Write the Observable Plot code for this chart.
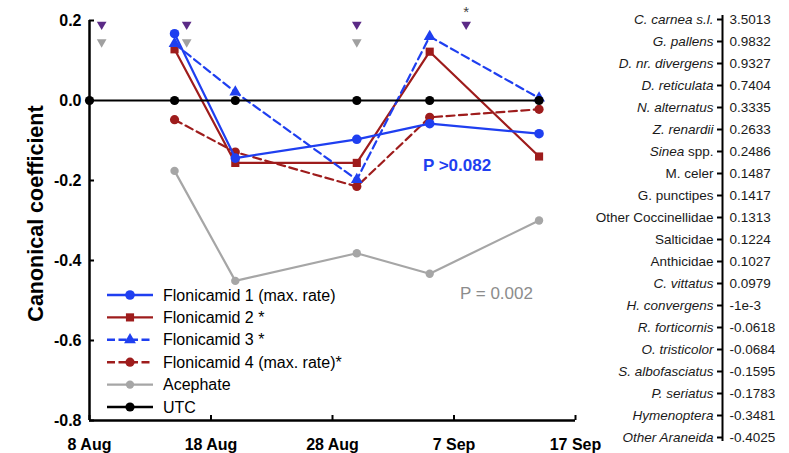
<!DOCTYPE html>
<html><head><meta charset="utf-8">
<script src="https://cdn.jsdelivr.net/npm/d3@7"></script>
<script src="https://cdn.jsdelivr.net/npm/@observablehq/plot@0.6"></script>
<style>
html,body{margin:0;padding:0;background:#fff;}
#wrap{position:relative;width:789px;height:453px;overflow:hidden;font-family:"Liberation Sans",Arial,sans-serif;}
#wrap svg{position:absolute;left:0;top:0;}
</style></head><body><div id="wrap"></div>
<script>
// ---- data ----
const sampleDates = ["2010-08-15","2010-08-20","2010-08-30","2010-09-05","2010-09-14"];
const utcDates = ["2010-08-08","2010-08-15","2010-08-20","2010-08-30","2010-09-05","2010-09-14"];
const flonicamid1 = [0.167, -0.144, -0.097, -0.058, -0.083];
const flonicamid2 = [0.128, -0.156, -0.156, 0.122, -0.140];
const flonicamid3 = [0.142, 0.021, -0.198, 0.160, 0.006];
const flonicamid4 = [-0.048, -0.129, -0.215, -0.042, -0.022];
const acephate = [-0.176, -0.451, -0.382, -0.433, -0.300];
const utc = [0, 0, 0, 0, 0, 0];
const seriesNames = ["Flonicamid 1 (max. rate)", "Flonicamid 2 *", "Flonicamid 3 *", "Flonicamid 4 (max. rate)*", "Acephate", "UTC"];
const xTickDates = ["2010-08-08","2010-08-18","2010-08-28","2010-09-07","2010-09-17"];
const yTickValues = [0.2, 0, -0.2, -0.4, -0.6, -0.8];
const flonicamidSprays = ["2010-08-09","2010-08-16","2010-08-30","2010-09-08"];
const acephateSprays = ["2010-08-09","2010-08-16","2010-08-30"];
const sprayLevelFlonicamid = 0.19;
const sprayLevelAcephate = 0.146;
const asteriskDates = ["2010-09-08"];
const asteriskLevel = 0.222;
const annotations = [
  {date: "2010-09-07", value: -0.163, label: "P >0.082"},
  {date: "2010-09-10", value: -0.4825, label: "P = 0.002"}
];
const yLabel = "Canonical coefficient";
const species = ["C. carnea s.l.","G. pallens","D. nr. divergens","D. reticulata","N. alternatus","Z. renardii","Sinea spp.","M. celer","G. punctipes","Other Coccinellidae","Salticidae","Anthicidae","C. vittatus","H. convergens","R. forticornis","O. tristicolor","S. albofasciatus","P. seriatus","Hymenoptera","Other Araneida"];
const speciesCoef = [3.5013,0.9832,0.9327,0.7404,0.3335,0.2633,0.2486,0.1487,0.1417,0.1313,0.1224,0.1027,0.0979,-0.001,-0.0618,-0.0684,-0.1595,-0.1783,-0.3481,-0.4025];
const italicSpecies = ["C. carnea s.l.","G. pallens","D. nr. divergens","D. reticulata","N. alternatus","Z. renardii","C. vittatus","H. convergens","R. forticornis","O. tristicolor","S. albofasciatus","P. seriatus","Hymenoptera","Other Araneida"];

// ---- styling ----
const FONT = '"Liberation Sans", Arial, sans-serif';
const BLUE = "#1f3ff0", RED = "#9e1c1c", GRAY = "#a6a6a6", PURPLE = "#5b2a86";
const parse = d3.utcParse("%Y-%m-%d");
const styles = [
  {color: BLUE, dash: null, symbol: "circle", r: 4.8},
  {color: RED, dash: null, symbol: "square", r: 4.6},
  {color: BLUE, dash: "8,4.5", symbol: "triangle", r: 4.4},
  {color: RED, dash: "8,4.5", symbol: "circle", r: 4.6},
  {color: GRAY, dash: null, symbol: "circle", r: 4.2},
  {color: "#000", dash: null, symbol: "circle", r: 4.6}
];
const seriesValues = [flonicamid1, flonicamid2, flonicamid3, flonicamid4, acephate, utc];
const seriesDates = [sampleDates, sampleDates, sampleDates, sampleDates, sampleDates, utcDates];
const rowsOf = i => seriesValues[i].map((v, j) => ({date: parse(seriesDates[i][j]), value: v}));

const triangleDown = {draw(ctx, size) {
  const y = Math.sqrt(size / (3 * Math.sqrt(3))), x = y * Math.sqrt(3);
  ctx.moveTo(0, 2 * y); ctx.lineTo(x, -y); ctx.lineTo(-x, -y); ctx.closePath();
}};

const xTicks = xTickDates.map(parse);
const seriesMarks = [];
for (const i of [4, 3, 1, 0, 2, 5]) {
  const st = styles[i], rows = rowsOf(i);
  seriesMarks.push(Plot.line(rows, {x: "date", y: "value", stroke: st.color, strokeWidth: 2.2, strokeDasharray: st.dash}));
  seriesMarks.push(Plot.dot(rows, {x: "date", y: "value", symbol: st.symbol, r: st.r, fill: st.color, stroke: "none"}));
}

const main = Plot.plot({
  width: 600, height: 453,
  marginLeft: 89, marginRight: 25, marginTop: 20, marginBottom: 33,
  style: {background: "transparent", fontFamily: FONT, overflow: "visible"},
  x: {type: "utc", domain: [parse("2010-08-08"), parse("2010-09-17")]},
  y: {domain: [-0.8, 0.2]},
  marks: [
    Plot.axisY({ticks: yTickValues, tickSize: 0, tickPadding: 8, tickFormat: d => d.toFixed(1), fontSize: 16, fontWeight: "bold", label: null}),
    Plot.axisX({ticks: xTicks, tickSize: 0, tickPadding: 18, tickFormat: d => `${d.getUTCDate()} ${d3.utcFormat("%b")(d)}`, fontSize: 16, fontWeight: "bold", label: null}),
    Plot.tickX(xTicks, {x: d => d, insetTop: 395, strokeWidth: 2}),
    Plot.tickY(yTickValues, {y: d => d, insetRight: 481, strokeWidth: 2}),
    Plot.ruleX([parse("2010-08-08")], {strokeWidth: 2.5}),
    Plot.ruleY([-0.8], {strokeWidth: 2.5}),
    Plot.text([yLabel], {text: d => d, frameAnchor: "left", rotate: -90, dx: -47, dy: -7, textAnchor: "middle", lineAnchor: "bottom", fontSize: 21.5, fontWeight: "bold"}),
    ...seriesMarks,
    Plot.dot(flonicamidSprays, {x: d => parse(d), y: () => sprayLevelFlonicamid, symbol: triangleDown, r: 3.6, fill: PURPLE, stroke: "none"}),
    Plot.dot(acephateSprays, {x: d => parse(d), y: () => sprayLevelAcephate, symbol: triangleDown, r: 3.6, fill: "#a0a0a0", stroke: "none"}),
    Plot.text(asteriskDates, {x: d => parse(d), y: () => asteriskLevel, text: () => "*", fontSize: 15, fill: "#444"}),
    Plot.text(annotations.slice(0, 1), {x: d => parse(d.date), y: "value", text: "label", dx: 3, fontSize: 17, fontWeight: "bold", fill: BLUE}),
    Plot.text(annotations.slice(1), {x: d => parse(d.date), y: "value", text: "label", dx: 6, fontSize: 17, fill: "#8c8c8c"})
  ]
});

// legend
const lg = d3.select(main).append("g").attr("font-size", 16).attr("font-family", FONT).attr("text-anchor", "start");
const symMap = {circle: d3.symbolCircle, square: d3.symbolSquare, triangle: d3.symbolTriangle};
seriesNames.forEach((name, i) => {
  const st = styles[i], y = 295 + i * 22.4;
  lg.append("line").attr("x1", 107).attr("x2", 153).attr("y1", y).attr("y2", y)
    .attr("stroke", st.color).attr("stroke-width", 2.4).attr("stroke-dasharray", st.dash ? "8,3.5" : null);
  lg.append("path").attr("transform", `translate(130,${y})`)
    .attr("d", d3.symbol(symMap[st.symbol], Math.PI * st.r * st.r)()).attr("fill", st.color);
  lg.append("text").attr("x", 163).attr("y", y).attr("dy", "0.35em").attr("fill", "#000").text(name);
});

// right panel
const fmtCoef = v => v === -0.001 ? "-1e-3" : v.toFixed(4);
const right = Plot.plot({
  width: 789, height: 453,
  marginLeft: 722, marginRight: 66, marginTop: 15, marginBottom: 12,
  style: {background: "transparent", fontFamily: FONT, overflow: "visible"},
  x: {domain: [0, 1], axis: null},
  y: {type: "point", domain: species, padding: 0, axis: null},
  marks: [
    Plot.ruleX([0], {strokeWidth: 2}),
    Plot.axisY({anchor: "left", tickSize: 5, tickPadding: 4, strokeWidth: 2, fontSize: 13.5, fill: "#1a1a1a", label: null}),
    Plot.text(species, {y: d => d, text: (d, i) => fmtCoef(speciesCoef[i]), frameAnchor: "right", dx: 6, textAnchor: "start", fontSize: 13.5, fill: "#1a1a1a"})
  ]
});
d3.select(right).selectAll('g[aria-label="y-axis tick label"] text').each(function() {
  const t = this.textContent;
  if (t === "Sinea spp.") {
    this.textContent = "";
    d3.select(this).append("tspan").attr("font-style", "italic").text("Sinea");
    d3.select(this).append("tspan").text(" spp.");
  } else if (italicSpecies.includes(t)) {
    this.setAttribute("font-style", "italic");
  }
});

const wrap = document.getElementById("wrap");
wrap.appendChild(main);
wrap.appendChild(right);
</script></body></html>
